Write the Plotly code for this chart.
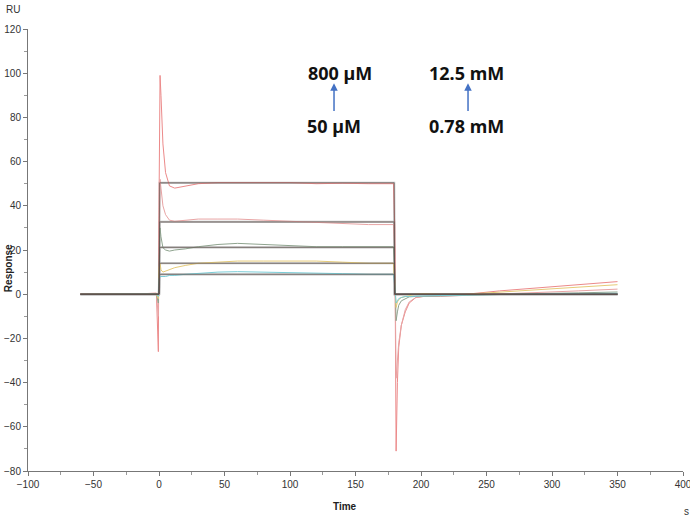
import plotly.graph_objects as go

# Time points (s) of sensorgram key points
T = [-60, -40, -20, -2, -0.5, 0, 0.8, 1.5, 3, 5, 8, 12, 20, 30, 45, 60, 80, 100, 120, 140, 160, 179,
     180, 181, 182, 183, 185, 188, 191, 196, 202, 215, 235, 260, 290, 320, 350]

# Response (RU) of each sensorgram
S1 = [0.3, 0, 0, 0.5, -26, 40, 99, 90, 68, 55, 49, 48, 49, 50, 50.5, 50.5, 50.5, 50.5, 50, 50.2, 50, 50,
      30, -71, -40, -24, -14, -8, -4, -1.5, -1, -0.5, 0, 1.5, 3, 4.5, 5.7]
S2 = [0.2, 0, 0, 0.3, -10, 20, 52, 48, 40, 36, 33.5, 33, 33.5, 34, 34, 34, 33.5, 33, 32.5, 32, 31.5, 31.5,
      20, -38, -30, -22, -14, -7, -3.5, -1.5, -1, -1, -0.5, 0, 0.8, 1.5, 2.3]
S3 = [0, 0, 0, 0.2, -4, 15, 30, 26, 21, 20, 19.5, 20, 20.5, 21.5, 22.5, 23, 22.5, 22, 21.5, 21.5, 21.5, 21.5,
      10, -12, -8, -5, -3, -2, -1.2, -1, -1, -0.8, -0.5, 0, 0.3, 0.6, 1]
S4 = [0, 0, 0, 0.1, -2, 12, 14, 11, 10, 10.5, 11, 12, 13, 14, 14.5, 15, 15, 15, 15, 14.5, 14, 14,
      6, -6, -3.5, -2.5, -1.5, -1, -0.5, 0, 0.3, 0, 0, 1, 2.2, 3.3, 4.3]
S5 = [0, 0, 0, 0.1, -1, 7, 8, 8, 8, 8, 8.5, 8.5, 9, 9.5, 10, 10.2, 10, 10, 9.5, 9.3, 9, 9,
      4, -4, -3, -2, -1.5, -1, -1, -0.8, -0.8, -0.6, -0.3, 0, 0.2, 0.3, 0.4]
SERIES = [S1, S2, S3, S4, S5]
COLORS = ["#ec8a8a", "#e8a4a4", "#8fa48f", "#e6cb78", "#79ccd6"]

# Fitted square-wave model
FIT_T = [-60, 0, 0.5, 179.5, 180, 350]
FIT_LEVELS = [50.4, 32.7, 21.2, 14.0, 9.0]

fig = go.Figure()
for L in FIT_LEVELS:
    fig.add_trace(go.Scatter(x=FIT_T, y=[0, 0, L, L, 0, 0], mode="lines",
                             line=dict(color="#c0c0c0", width=2.2), hoverinfo="skip"))
for s, c in zip(SERIES, COLORS):
    fig.add_trace(go.Scatter(x=T, y=s, mode="lines", line=dict(color=c, width=1)))
for L in FIT_LEVELS:
    fig.add_trace(go.Scatter(x=FIT_T, y=[0, 0, L, L, 0, 0], mode="lines",
                             line=dict(color="#5e504c", width=0.7), hoverinfo="skip"))

tickfont = dict(family="Liberation Sans Narrow, Liberation Sans, sans-serif", size=10, color="#333")
axcommon = dict(showgrid=False, zeroline=False, showline=True, linecolor="#777", linewidth=1,
                ticks="outside", ticklen=4, tickcolor="#777", tickfont=tickfont, automargin=False,
                ticklabeloverflow="allow")

fig.update_xaxes(range=[-100, 400], tickvals=list(range(-100, 401, 50)),
                 minor=dict(tickvals=list(range(-75, 400, 50)), ticks="outside", ticklen=3, tickcolor="#999"),
                 **axcommon)
fig.update_yaxes(range=[-80, 120], tickvals=list(range(-80, 121, 20)),
                 minor=dict(tickvals=list(range(-70, 120, 20)), ticks="outside", ticklen=3, tickcolor="#999"),
                 **axcommon)

labfont = dict(family="Noto Sans, Open Sans, sans-serif", size=18, color="#111")
bold = dict(family="Liberation Sans Narrow, Liberation Sans, sans-serif", size=10, color="#222")
fig.update_layout(
    width=690, height=516, margin=dict(l=28, r=7, t=29, b=45),
    plot_bgcolor="white", paper_bgcolor="white", showlegend=False,
    annotations=[
        dict(x=138, y=99.9, text="<b>800 µM</b>", showarrow=False, font=labfont, xref="x", yref="y"),
        dict(x=133.6, y=75.9, text="<b>50 µM</b>", showarrow=False, font=labfont, xref="x", yref="y"),
        dict(x=234.4, y=99.9, text="<b>12.5 mM</b>", showarrow=False, font=labfont, xref="x", yref="y"),
        dict(x=234.4, y=75.9, text="<b>0.78 mM</b>", showarrow=False, font=labfont, xref="x", yref="y"),
        dict(x=133.6, y=95.4, ax=133.6, ay=82.2, axref="x", ayref="y", xref="x", yref="y", text="",
             showarrow=True, arrowhead=2, arrowsize=1, arrowwidth=1.5, arrowcolor="#4472c4"),
        dict(x=235.9, y=95.4, ax=235.9, ay=82.2, axref="x", ayref="y", xref="x", yref="y", text="",
             showarrow=True, arrowhead=2, arrowsize=1, arrowwidth=1.5, arrowcolor="#4472c4"),
        dict(x=0.484, y=-0.0814, xref="paper", yref="paper", text="<b>Time</b>", showarrow=False,
             font=bold, xanchor="center", yanchor="middle"),
        dict(x=-0.0305, y=0.459, xref="paper", yref="paper", text="<b>Response</b>", showarrow=False,
             font=bold, textangle=-90, xanchor="center", yanchor="middle"),
        dict(x=-0.0229, y=1.045, xref="paper", yref="paper", text="RU", showarrow=False,
             font=tickfont, xanchor="center", yanchor="middle"),
        dict(x=1.0046, y=-0.0905, xref="paper", yref="paper", text="s", showarrow=False,
             font=tickfont, xanchor="center", yanchor="middle"),
    ],
)
fig.write_html("out.html", config={"displayModeBar": False},
               post_script="document.body.style.margin='0';document.body.style.overflow='hidden';")
